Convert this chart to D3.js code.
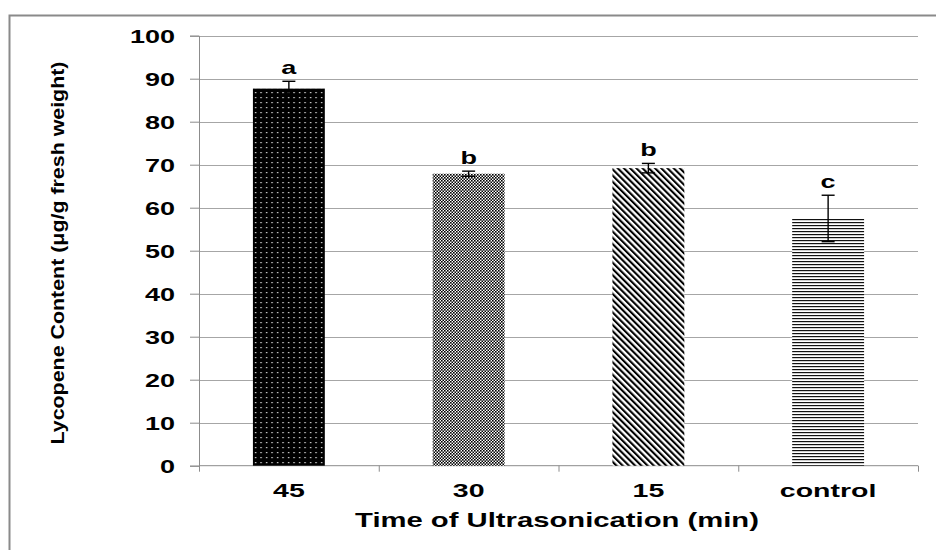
<!DOCTYPE html>
<html>
<head>
<meta charset="utf-8">
<script src="https://cdn.jsdelivr.net/npm/d3@7"></script>
<style>
  body { margin: 0; background: #fff; }
  svg { display: block; font-family: "Liberation Sans", Arial, sans-serif; }
</style>
</head>
<body>
<svg id="chart" width="936" height="550"></svg>
<script>
// values
const categories = ['45', '30', '15', 'control']
const means = [87.7, 67.9, 69.2, 57.5]
const errors = [1.7, 0.6, 1.1, 5.4]
const letters = ['a', 'b', 'b', 'c']
const patterns = ['dots', 'checks', 'diag', 'hlines']
const yTicks = [0, 10, 20, 30, 40, 50, 60, 70, 80, 90, 100]

const sx = 1.5 // the picture is stretched sideways, so is its text
const plotLeft = 199, plotRight = 918, plotTop = 35.7, plotBottom = 465.7

let svg = d3.select('#chart')

// outer frame (runs off the right and bottom edges)
svg.append('rect')
  .attr('x', 9.5).attr('y', 15.5)
  .attr('width', 940).attr('height', 560)
  .attr('fill', 'none').attr('stroke', '#8a8a8a').attr('stroke-width', 2)

// fill patterns
let defs = svg.append('defs')
let p = defs.append('pattern').attr('id', 'dots')
  .attr('patternUnits', 'userSpaceOnUse').attr('width', 5.5).attr('height', 5)
p.append('rect').attr('width', 5.5).attr('height', 5).attr('fill', '#000')
p.append('rect').attr('x', 2).attr('y', 2).attr('width', 1.2).attr('height', 1.2).attr('fill', '#fff')

p = defs.append('pattern').attr('id', 'checks')
  .attr('patternUnits', 'userSpaceOnUse').attr('width', 3).attr('height', 3)
p.append('rect').attr('width', 3).attr('height', 3).attr('fill', '#fff')
p.append('rect').attr('width', 1.6).attr('height', 1.6).attr('fill', '#000')
p.append('rect').attr('x', 1.5).attr('y', 1.5).attr('width', 1.6).attr('height', 1.6).attr('fill', '#000')

p = defs.append('pattern').attr('id', 'diag')
  .attr('patternUnits', 'userSpaceOnUse').attr('width', 4.4).attr('height', 10)
  .attr('patternTransform', 'rotate(-45)')
p.append('rect').attr('width', 4.4).attr('height', 10).attr('fill', '#fff')
p.append('rect').attr('width', 2.1).attr('height', 10).attr('fill', '#000')

p = defs.append('pattern').attr('id', 'hlines')
  .attr('patternUnits', 'userSpaceOnUse').attr('width', 10).attr('height', 3)
p.append('rect').attr('width', 10).attr('height', 3).attr('fill', '#fff')
p.append('rect').attr('width', 10).attr('height', 1.2).attr('fill', '#111')

// scales
let y = d3.scaleLinear().domain([0, 100]).range([plotBottom, plotTop])
let x = d3.scaleBand().domain(categories).range([plotLeft, plotRight]).paddingInner(0.6).paddingOuter(0.3)
let xEdge = d3.scaleLinear().domain([0, categories.length]).range([plotLeft, plotRight])

// gridlines
svg.append('g')
  .selectAll('line')
  .data(yTicks.slice(1))
  .join('line')
  .attr('x1', plotLeft).attr('x2', plotRight)
  .attr('y1', d => Math.round(y(d)) + 0.5).attr('y2', d => Math.round(y(d)) + 0.5)
  .attr('stroke', '#a6a6a6').attr('stroke-width', 1)

// y axis
let yAxis = svg.append('g')
  .attr('transform', `translate(${plotLeft},0)`)
  .call(d3.axisLeft(y).tickValues(yTicks).tickSize(9).tickPadding(0))
yAxis.selectAll('path, line').attr('stroke', '#8c8c8c')
yAxis.selectAll('text')
  .attr('x', -24 / sx)
  .attr('dy', '0.35em')
  .attr('transform', `scale(${sx},1)`)
  .attr('fill', '#000')
  .style('font-size', '18px')
  .style('font-weight', 'bold')
  .style('font-family', '"Liberation Sans", Arial, sans-serif')

// x axis: boundary ticks
let xAxis = svg.append('g')
  .attr('transform', `translate(0,${plotBottom})`)
  .call(d3.axisBottom(xEdge).ticks(categories.length).tickSize(6).tickFormat(''))
xAxis.selectAll('path, line').attr('stroke', '#8c8c8c')
xAxis.select('path').attr('d', `M${plotLeft},0H${plotRight}`)

// category labels
svg.append('g')
  .selectAll('text')
  .data(categories)
  .join('text')
  .attr('transform', d => `translate(${x(d) + x.bandwidth() / 2},${plotBottom + 31}) scale(${sx},1)`)
  .attr('text-anchor', 'middle')
  .attr('font-size', 19)
  .attr('font-weight', 'bold')
  .text(d => d)

// bars
svg.append('g')
  .selectAll('rect')
  .data(categories)
  .join('rect')
  .attr('x', d => x(d))
  .attr('y', (d, i) => y(means[i]))
  .attr('width', x.bandwidth())
  .attr('height', (d, i) => y(0) - y(means[i]))
  .attr('fill', (d, i) => `url(#${patterns[i]})`)

// error bars
let eb = svg.append('g')
  .attr('stroke', '#000').attr('stroke-width', 1.4)
  .selectAll('g')
  .data(categories)
  .join('g')
  .attr('transform', d => `translate(${x(d) + x.bandwidth() / 2},0)`)
eb.append('line')
  .attr('y1', (d, i) => y(means[i] - errors[i]))
  .attr('y2', (d, i) => y(means[i] + errors[i]))
eb.append('line')
  .attr('x1', -6.5).attr('x2', 6.5)
  .attr('y1', (d, i) => y(means[i] + errors[i]))
  .attr('y2', (d, i) => y(means[i] + errors[i]))
eb.append('line')
  .attr('x1', -6.5).attr('x2', 6.5)
  .attr('y1', (d, i) => y(means[i] - errors[i]))
  .attr('y2', (d, i) => y(means[i] - errors[i]))

// significance letters
svg.append('g')
  .selectAll('text')
  .data(categories)
  .join('text')
  .attr('transform', (d, i) => `translate(${x(d) + x.bandwidth() / 2},${y(means[i] + errors[i]) - 7}) scale(${sx},1)`)
  .attr('text-anchor', 'middle')
  .attr('font-size', 18)
  .attr('font-weight', 'bold')
  .text((d, i) => letters[i])

// axis titles
svg.append('text')
  .attr('transform', `translate(557,527) scale(${sx},1)`)
  .attr('text-anchor', 'middle')
  .attr('font-size', 19.5)
  .attr('font-weight', 'bold')
  .text('Time of Ultrasonication (min)')

svg.append('text')
  .attr('transform', 'translate(64,253) rotate(-90)')
  .attr('text-anchor', 'middle')
  .attr('font-family', '"Liberation Sans Narrow", "Liberation Sans", sans-serif')
  .attr('font-size', 19)
  .attr('font-weight', 'bold')
  .attr('textLength', 383)
  .attr('lengthAdjust', 'spacingAndGlyphs')
  .text('Lycopene Content (\u03bcg/g fresh weight)')
</script>
</body>
</html>
